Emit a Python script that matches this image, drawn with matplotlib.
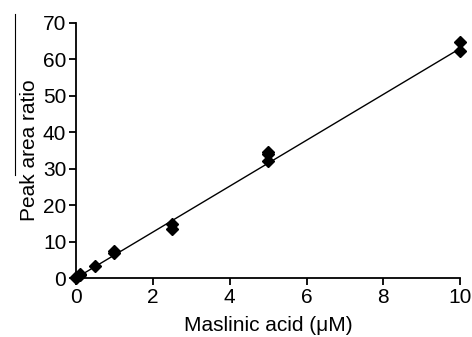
import matplotlib
matplotlib.use("Agg")
import matplotlib.pyplot as plt
from matplotlib.lines import Line2D
import numpy as np

# calibration data
conc = [0, 0, 0.1, 0.1, 0.5, 1, 1, 2.5, 2.5, 5, 5, 5, 10, 10]
ratio = [0, 0.3, 0.7, 1.0, 3.3, 7.0, 7.4, 13.4, 14.8, 32.0, 34.0, 34.6, 62.2, 64.7]
fit_x = [0, 10]
fit_y = [0, 63.0]

plt.rcParams['font.family'] = ['Liberation Sans', 'DejaVu Sans']

fig = plt.figure(figsize=(4.72, 3.37), dpi=100)
ax = fig.add_axes([0.161, 0.175, 0.814, 0.757])

ax.plot(fit_x, fit_y, color="black", lw=1.0)
ax.plot(conc, ratio, "D", color="black", ms=6.5, clip_on=False)

ax.set_xlim(0, 10)
ax.set_ylim(0, 70)
ax.set_xticks([0, 2, 4, 6, 8, 10])
ax.set_yticks(range(0, 71, 10))
for s in ["top", "right"]:
    ax.spines[s].set_visible(False)
for s in ["left", "bottom"]:
    ax.spines[s].set_linewidth(1.3)
ax.tick_params(direction="out", length=5, width=1.3, labelsize=15, pad=2)
ax.set_xlabel("Maslinic acid (μM)", fontsize=15, labelpad=7)
ax.set_ylabel("Peak area ratio", fontsize=15, labelpad=3)

# stray rule beside the y label, as in the original scan
fig.add_artist(Line2D([15/472, 15/472], [1 - 14/337, 1 - 175/337], color="black", lw=0.8))

fig.savefig("out.png", dpi=100)
